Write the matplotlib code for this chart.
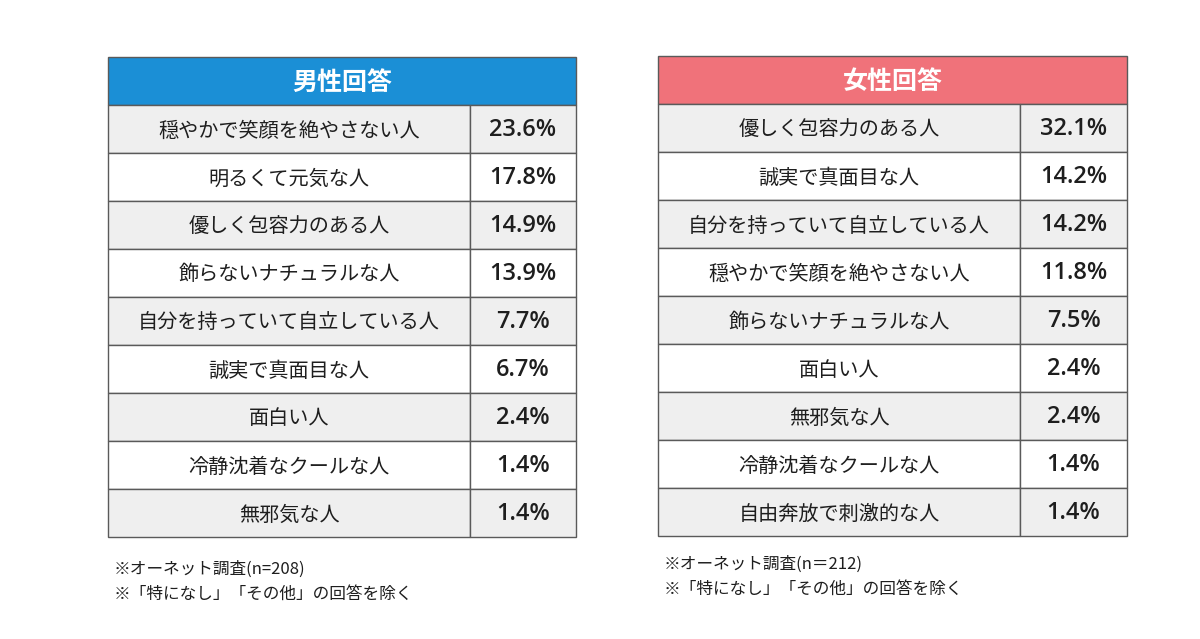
import matplotlib.pyplot as plt
from matplotlib.patches import Rectangle

plt.rcParams['font.family'] = ['Noto Sans CJK JP', 'DejaVu Sans']

male_title = "男性回答"
male_labels = ["穏やかで笑顔を絶やさない人", "明るくて元気な人", "優しく包容力のある人",
               "飾らないナチュラルな人", "自分を持っていて自立している人", "誠実で真面目な人",
               "面白い人", "冷静沈着なクールな人", "無邪気な人"]
male_values = [23.6, 17.8, 14.9, 13.9, 7.7, 6.7, 2.4, 1.4, 1.4]
male_notes = ["※オーネット調査(n=208)", "※「特になし」「その他」の回答を除く"]

female_title = "女性回答"
female_labels = ["優しく包容力のある人", "誠実で真面目な人", "自分を持っていて自立している人",
                 "穏やかで笑顔を絶やさない人", "飾らないナチュラルな人", "面白い人",
                 "無邪気な人", "冷静沈着なクールな人", "自由奔放で刺激的な人"]
female_values = [32.1, 14.2, 14.2, 11.8, 7.5, 2.4, 2.4, 1.4, 1.4]
female_notes = ["※オーネット調査(n＝212)", "※「特になし」「その他」の回答を除く"]

fig = plt.figure(figsize=(12, 6.39), dpi=100)
ax = fig.add_axes([0, 0, 1, 1])
ax.set_xlim(0, 1200)
ax.set_ylim(639, 0)
ax.axis("off")

edge = "#5a5a5a"


def draw_table(x0, x1, xsplit, ytop, title, color, labels, values, notes, note_y):
    head_h = 48
    row_h = 48
    ax.add_patch(Rectangle((x0, ytop), x1 - x0, head_h, facecolor=color,
                           edgecolor=edge, lw=1))
    ax.text((x0 + x1) / 2, ytop + head_h / 2 + 2, title, color="white",
            fontsize=18, fontweight="bold", ha="center", va="center")
    y = ytop + head_h
    for i, (lab, v) in enumerate(zip(labels, values)):
        fc = "#efefef" if i % 2 == 0 else "white"
        ax.add_patch(Rectangle((x0, y), xsplit - x0, row_h, facecolor=fc,
                               edgecolor=edge, lw=1))
        ax.add_patch(Rectangle((xsplit, y), x1 - xsplit, row_h, facecolor=fc,
                               edgecolor=edge, lw=1))
        ax.text((x0 + xsplit) / 2, y + row_h / 2 + 2, lab, fontsize=14.5,
                ha="center", va="center", color="#1e1e1e")
        ax.text((xsplit + x1) / 2, y + row_h / 2 + 1, f"{v:.1f}%", fontsize=17,
                ha="center", va="center", color="#1e1e1e",
                family=["Open Sans", "DejaVu Sans"], fontweight="semibold")
        y += row_h
    for j, n in enumerate(notes):
        ax.text(x0 + 6, note_y + j * 25, n, fontsize=12, ha="left", va="center",
                color="#1e1e1e")


draw_table(108, 576, 470, 57, male_title, "#1b8fd6", male_labels, male_values,
           male_notes, 569)
draw_table(658, 1127, 1020, 56, female_title, "#f0727a", female_labels, female_values,
           female_notes, 564)

fig.savefig("out.png", dpi=100)
